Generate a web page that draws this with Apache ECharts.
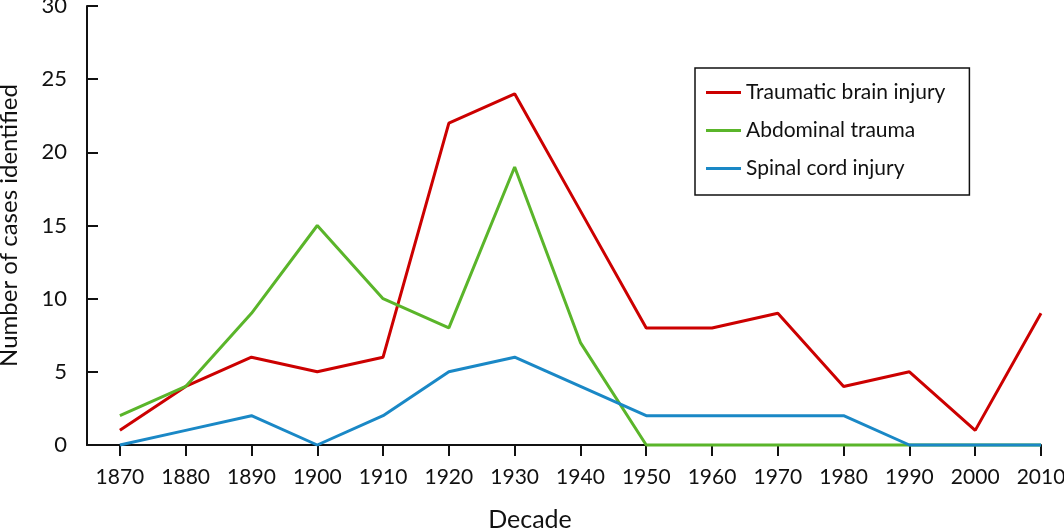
<!DOCTYPE html>
<html>
<head>
<meta charset="utf-8">
<script src="https://cdn.jsdelivr.net/npm/echarts@6/dist/echarts.min.js"></script>
<style>
html,body{margin:0;padding:0;background:#fff;}
#chart{width:1064px;height:528px;}
</style>
</head>
<body>
<div id="chart"></div>
<script>
var decades = [1870,1880,1890,1900,1910,1920,1930,1940,1950,1960,1970,1980,1990,2000,2010];
var yTicks = [0,5,10,15,20,25,30];
var traumaticBrainInjury = [1,4,6,5,6,22,24,16,8,8,9,4,5,1,9];
var abdominalTrauma = [2,4,9,15,10,8,19,7,0,0,0,0,0,0,0];
var spinalCordInjury = [0,1,2,0,2,5,6,4,2,2,2,2,0,0,0];
var seriesNames = ['Traumatic brain injury','Abdominal trauma','Spinal cord injury'];
var seriesColors = ['#cc0000','#5ab52a','#1a88c6'];

function pairs(vals){ return decades.map(function(d,i){ return [d, vals[i]]; }); }

var FONT = 'Lato';
var chart = echarts.init(document.getElementById('chart'));
var allData = [traumaticBrainInjury, abdominalTrauma, spinalCordInjury];

chart.setOption({
  animation: false,
  backgroundColor: '#fff',
  textStyle: { fontFamily: FONT, color: '#111' },
  grid: { left: 87, right: 23, top: 6, bottom: 83, containLabel: false, outerBoundsMode: 'none' },
  legend: {
    orient: 'vertical',
    left: 695,
    top: 68,
    padding: [14, 24, 16, 11],
    itemGap: 17,
    itemWidth: 35,
    itemHeight: 3,
    icon: 'rect',
    borderColor: '#111',
    borderWidth: 1.5,
    textStyle: { fontFamily: FONT, fontSize: 21, color: '#111', lineHeight: 20 },
    data: seriesNames
  },
  xAxis: {
    type: 'value',
    min: 1865,
    max: 2010,
    name: 'Decade',
    nameLocation: 'middle',
    nameGap: 62,
    nameTextStyle: { fontFamily: FONT, fontSize: 25, color: '#111', padding: [0, 68, 0, 0] },
    axisLine: { show: true, lineStyle: { color: '#111', width: 2 } },
    axisTick: { show: true, inside: false, length: 11, customValues: decades, lineStyle: { color: '#111', width: 2 } },
    axisLabel: { customValues: decades, margin: 22, fontSize: 21, color: '#111', fontFamily: FONT,
      formatter: function(v){ return String(v); } },
    splitLine: { show: false }
  },
  yAxis: {
    type: 'value',
    min: 0,
    max: 30,
    interval: 5,
    name: 'Number of cases identified',
    nameLocation: 'middle',
    nameGap: 66,
    nameTextStyle: { fontFamily: FONT, fontSize: 24, color: '#111' },
    axisLine: { show: true, lineStyle: { color: '#111', width: 2 } },
    axisTick: { show: true, inside: true, length: 11, lineStyle: { color: '#111', width: 2 } },
    axisLabel: { margin: 20, fontSize: 22, color: '#111', fontFamily: FONT },
    splitLine: { show: false }
  },
  series: seriesNames.map(function(n, i){
    return {
      name: n,
      type: 'line',
      data: pairs(allData[i]),
      symbol: 'none',
      clip: false,
      z: 2 + i,
      color: seriesColors[i],
      lineStyle: { color: seriesColors[i], width: 3 }
    };
  })
});
</script>
</body>
</html>
